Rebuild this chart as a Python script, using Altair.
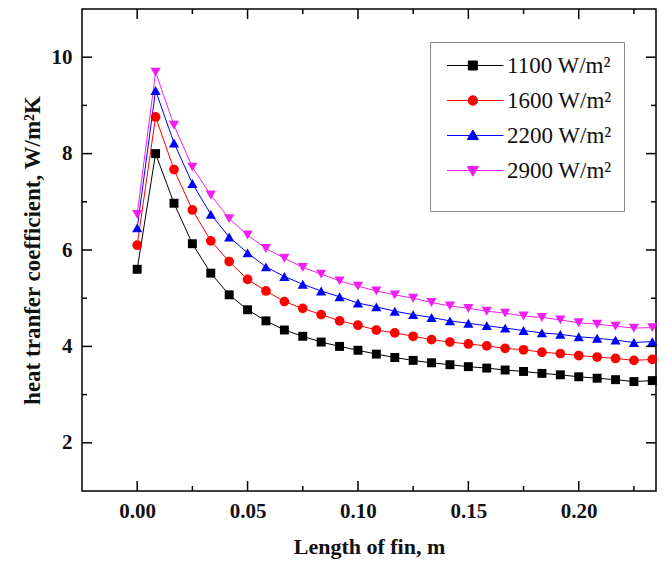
import altair as alt
import pandas as pd

# ---- data ----
length_m = [0.0, 0.00833, 0.01667, 0.025, 0.03333, 0.04167, 0.05, 0.05833, 0.06667,
            0.075, 0.08333, 0.09167, 0.1, 0.10833, 0.11667, 0.125, 0.13333, 0.14167,
            0.15, 0.15833, 0.16667, 0.175, 0.18333, 0.19167, 0.2, 0.20833, 0.21667,
            0.225, 0.23333]
h_1100 = [5.60, 8.00, 6.97, 6.13, 5.52, 5.07, 4.76, 4.53, 4.34, 4.21, 4.09, 4.00, 3.92,
          3.84, 3.77, 3.71, 3.66, 3.62, 3.58, 3.55, 3.51, 3.48, 3.44, 3.41, 3.37, 3.34,
          3.31, 3.27, 3.29]
h_1600 = [6.10, 8.76, 7.67, 6.83, 6.19, 5.76, 5.39, 5.15, 4.93, 4.79, 4.66, 4.53, 4.44,
          4.34, 4.28, 4.21, 4.14, 4.09, 4.05, 4.01, 3.96, 3.93, 3.88, 3.85, 3.81, 3.78,
          3.75, 3.71, 3.73]
h_2200 = [6.46, 9.31, 8.22, 7.38, 6.74, 6.27, 5.94, 5.65, 5.45, 5.29, 5.15, 5.03, 4.90,
          4.82, 4.73, 4.66, 4.60, 4.53, 4.48, 4.43, 4.38, 4.33, 4.28, 4.25, 4.20, 4.17,
          4.13, 4.08, 4.10]
h_2900 = [6.74, 9.69, 8.59, 7.72, 7.14, 6.65, 6.31, 6.03, 5.83, 5.64, 5.50, 5.36, 5.25,
          5.15, 5.07, 5.00, 4.91, 4.84, 4.79, 4.73, 4.69, 4.63, 4.60, 4.55, 4.49, 4.46,
          4.42, 4.38, 4.39]

series_keys = ["1100", "1600", "2200", "2900"]
series_colors = ["#000000", "#ff0000", "#0000ff", "#f01ef0"]
series_shapes = ["square", "circle", "triangle-up", "triangle-down"]
series_sizes = [80, 95, 105, 105]

x_major = [0.0, 0.05, 0.10, 0.15, 0.20]
x_minor = [0.025, 0.075, 0.125, 0.175, 0.225]
y_major = [2, 4, 6, 8, 10]
y_minor = [3, 5, 7, 9]

rows = []
for key, vals in zip(series_keys, [h_1100, h_1600, h_2200, h_2900]):
    for xv, yv in zip(length_m, vals):
        rows.append({"x": xv, "h": yv, "s": key})
df = pd.DataFrame(rows)

FONT = "Liberation Serif"
PLOT_W, PLOT_H = 574, 482

xs = alt.Scale(domain=[-0.025, 0.235], nice=False, zero=False)
ys = alt.Scale(domain=[1, 11], nice=False, zero=False)
cs = alt.Scale(domain=series_keys, range=series_colors)

# legend glyphs: a line through the marker (custom symbol paths, unit = half symbol)
line_p = "M-1.45,0H11.1"
legend_paths = [
    line_p + "M3.3,-1H5.3V1H3.3Z",
    line_p + "M5.35,0A1.05,1.05,0,1,1,3.25,0A1.05,1.05,0,1,1,5.35,0Z",
    line_p + "M4.3,-1.25L5.53,0.9H3.07Z",
    line_p + "M4.3,1.25L5.53,-0.9H3.07Z",
]
ls = alt.Scale(domain=series_keys, range=legend_paths)

x_axis = alt.Axis(orient="bottom", values=x_major, format=".2f", ticks=False,
                  domain=False, grid=False, title="Length of fin, m",
                  labelFont=FONT, labelFontSize=21, labelFontWeight="bold",
                  labelColor="#111", labelPadding=9, titleFont=FONT, titleFontSize=22,
                  titleFontWeight="bold", titleColor="#111", titlePadding=15)
y_axis = alt.Axis(orient="left", values=y_major, format="d", ticks=False,
                  domain=False, grid=False, title="heat tranfer coefficient, W/m\u00b2K",
                  labelFont=FONT, labelFontSize=21, labelFontWeight="bold",
                  labelColor="#111", labelPadding=10, titleFont=FONT, titleFontSize=23,
                  titleFontWeight="bold", titleColor="#111", titlePadding=7)

legend = alt.Legend(
    title="\u00a0", titleOrient="bottom", titleFontSize=16, titlePadding=0,
    orient="none", legendX=348, legendY=33, direction="vertical",
    labelFont=FONT, labelFontSize=23, labelColor="#111",
    labelExpr="datum.label + ' W/m\u00b2'",
    symbolSize=81, symbolStrokeWidth=1, labelOffset=42, rowPadding=11,
    padding=12, strokeColor="#888", fillColor="white", symbolOpacity=1,
)

base = alt.Chart(df)

line_layers = []
point_layers = []
for i, (key, col, shp, sz) in enumerate(zip(series_keys, series_colors,
                                            series_shapes, series_sizes)):
    sub = base.transform_filter(alt.datum.s == key)
    line_layers.append(
        sub.mark_line(color=col, strokeWidth=1).encode(
            x=alt.X("x:Q", scale=xs, axis=x_axis if i == 0 else None),
            y=alt.Y("h:Q", scale=ys, axis=y_axis if i == 0 else None),
        )
    )
    point_layers.append(
        sub.mark_point(filled=True, opacity=1, shape=shp, size=sz, color=col).encode(
            x=alt.X("x:Q", scale=xs, axis=None),
            y=alt.Y("h:Q", scale=ys, axis=None),
        )
    )

# invisible layer that only carries the legend (line + marker glyphs)
legend_layer = base.mark_point(filled=True, opacity=0, size=81).encode(
    x=alt.X("x:Q", scale=xs, axis=None),
    y=alt.Y("h:Q", scale=ys, axis=None),
    color=alt.Color("s:N", scale=cs, legend=legend),
    stroke=alt.Stroke("s:N", scale=cs, legend=legend),
    shape=alt.Shape("s:N", scale=ls, legend=legend),
)


# inward tick marks on all four sides, placed through the x / y scales
def xticks(values, at_bottom, length):
    y0 = PLOT_H if at_bottom else 0
    y1 = PLOT_H - length if at_bottom else length
    return alt.Chart(pd.DataFrame({"v": values})).mark_rule(
        color="black", strokeWidth=1.5).encode(
        x=alt.X("v:Q", scale=xs, axis=None), y=alt.value(y0), y2=alt.value(y1))


def yticks(values, at_left, length):
    x0 = 0 if at_left else PLOT_W
    x1 = length if at_left else PLOT_W - length
    return alt.Chart(pd.DataFrame({"v": values})).mark_rule(
        color="black", strokeWidth=1.5).encode(
        y=alt.Y("v:Q", scale=ys, axis=None), x=alt.value(x0), x2=alt.value(x1))


tick_layers = [
    xticks(x_major, True, 10), xticks(x_minor, True, 5),
    xticks(x_major, False, 10), xticks(x_minor, False, 5),
    yticks(y_major, True, 10), yticks(y_minor, True, 5),
    yticks(y_major, False, 10), yticks(y_minor, False, 5),
]

chart = alt.layer(*line_layers, *point_layers, legend_layer, *tick_layers).resolve_axis(
    x="independent", y="independent"
).properties(
    width=PLOT_W, height=PLOT_H,
    autosize=alt.AutoSizeParams(type="none"),
    padding={"left": 74, "top": 1, "right": 1, "bottom": 68},
    background="white",
).configure_view(stroke="black", strokeWidth=1.5)

chart.save("out.html", embed_options={"renderer": "svg", "actions": False})
